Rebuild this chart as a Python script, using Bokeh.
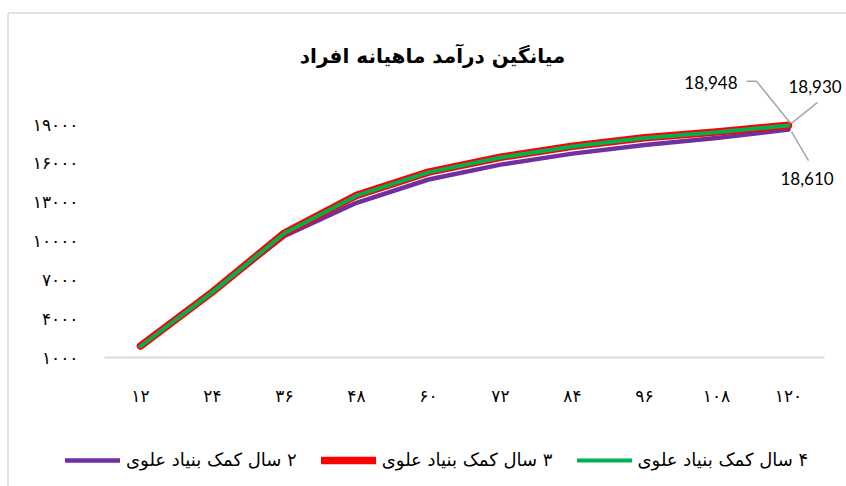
from bokeh.plotting import figure
from bokeh.models import (ColumnDataSource, Range1d, FixedTicker, Legend, LegendItem,
                          Label, Arrow)
from bokeh.embed import file_html
from bokeh.resources import INLINE

# ---- data ----
months = [12, 24, 36, 48, 60, 72, 84, 96, 108, 120]
month_labels = ["۱۲", "۲۴", "۳۶", "۴۸", "۶۰", "۷۲", "۸۴", "۹۶", "۱۰۸", "۱۲۰"]
years2 = [1860, 6020, 10380, 12950, 14750, 15900, 16750, 17420, 17950, 18610]
years3 = [1880, 6070, 10620, 13520, 15320, 16470, 17320, 17970, 18420, 18948]
years4 = [1870, 6050, 10600, 13500, 15300, 16450, 17300, 17950, 18400, 18930]
y_ticks = [1000, 4000, 7000, 10000, 13000, 16000, 19000]
y_tick_labels = ["۱۰۰۰", "۴۰۰۰", "۷۰۰۰", "۱۰۰۰۰", "۱۳۰۰۰", "۱۶۰۰۰", "۱۹۰۰۰"]
series_names = ["۲ سال کمک بنیاد علوی", "۳ سال کمک بنیاد علوی", "۴ سال کمک بنیاد علوی"]
title_text = "میانگین درآمد ماهیانه افراد"

FA = "DejaVu Sans"
RLM = "\u200f"
W, H = 846, 486

# pixel geometry of the plotting area (x: 6..126 -> 104..824 px, y: 1000..19000 -> 357..124 px)
XA, XB = 6, 126
YA, YB = 1000, 19000
PX_L, PX_R = 104, 824
PY_B, PY_T = 357, 124
PXX = (PX_R - PX_L) / (XB - XA)
PXY = (PY_B - PY_T) / (YB - YA)


def dx(px):
    return XA + (px - PX_L) / PXX


def dy(py):
    return YA + (PY_B - py) / PXY


p = figure(width=W, height=H, output_backend="svg", toolbar_location=None,
           x_range=Range1d(dx(0), dx(W)), y_range=Range1d(dy(H), dy(0)),
           min_border=0, min_border_left=0, min_border_right=0,
           min_border_top=0, min_border_bottom=0)
p.outline_line_color = None
p.xgrid.grid_line_color = None
p.ygrid.grid_line_color = None

# chart border (left and top edges of the chart box)
p.segment(x0=[dx(7.5), dx(7.5)], y0=[dy(12.5), dy(12.5)],
          x1=[dx(7.5), dx(W + 5)], y1=[dy(H + 5), dy(12.5)],
          line_color="#d9d9d9", line_width=1.5)

# title
p.add_layout(Label(x=dx(432), y=dy(55), text=title_text, text_align="center",
                   text_baseline="middle", text_font=FA, text_font_size="20px",
                   text_font_style="bold", text_color="#000000"))

src = ColumnDataSource(dict(x=months, y2=years2, y3=years3, y4=years4))
r2 = p.line("x", "y2", source=src, line_color="#7030A0", line_width=4.5,
            line_cap="round", line_join="round")
r3 = p.line("x", "y3", source=src, line_color="#FF0000", line_width=7.5,
            line_cap="round", line_join="round")
r4 = p.line("x", "y4", source=src, line_color="#00B050", line_width=4,
            line_cap="round", line_join="round")

# axes (fixed inside the frame)
p.xaxis.fixed_location = YA
p.xaxis.bounds = (XA, XB)
p.xaxis.ticker = FixedTicker(ticks=months)
p.xaxis.major_label_overrides = {m: l for m, l in zip(months, month_labels)}
p.xaxis.axis_line_color = "#d9d9d9"
p.xaxis.axis_line_width = 2
p.xaxis.major_tick_line_color = None
p.xaxis.minor_tick_line_color = None
p.xaxis.major_label_standoff = 22
p.xaxis.major_label_text_font = FA
p.xaxis.major_label_text_font_size = "17px"
p.xaxis.major_label_text_color = "#000000"

p.yaxis.fixed_location = XA
p.yaxis.ticker = FixedTicker(ticks=y_ticks)
p.yaxis.major_label_overrides = {t: l for t, l in zip(y_ticks, y_tick_labels)}
p.yaxis.axis_line_color = None
p.yaxis.major_tick_line_color = None
p.yaxis.minor_tick_line_color = None
p.yaxis.major_label_standoff = 20
p.yaxis.major_label_text_font = FA
p.yaxis.major_label_text_font_size = "17px"
p.yaxis.major_label_text_color = "#000000"

# legend
legend = Legend(items=[LegendItem(label=RLM + series_names[0], renderers=[r2]),
                       LegendItem(label=RLM + series_names[1], renderers=[r3]),
                       LegendItem(label=RLM + series_names[2], renderers=[r4])],
                orientation="horizontal", location=(65, 16),
                border_line_color=None, background_fill_alpha=0,
                label_text_font=FA, label_text_font_size="18px",
                label_text_color="#000000",
                glyph_width=55, glyph_height=12, label_standoff=6,
                spacing=24, margin=0, padding=0)
p.add_layout(legend)

# data labels for the last point
last = len(months) - 1
lab_font = "Lato"
specs = [
    (years3[last], -51, 43, "right", [(-42, 44), (-32, 44), (2, 2)]),
    (years4[last], 0, 39, "left", [(29, 23), (3, 2)]),
    (years2[last], -8, -49, "left", [(3, -2), (20, -31)]),
]
for val, ox, oy, align, pts in specs:
    p.add_layout(Label(x=months[last], y=val, x_offset=ox, y_offset=oy,
                       text="{:,}".format(val), text_align=align,
                       text_baseline="middle", text_font=lab_font,
                       text_font_size="17px", text_color="#000000"))
    for (ax, ay), (bx, by) in zip(pts[:-1], pts[1:]):
        p.add_layout(Arrow(end=None,
                           x_start=months[last] + ax / PXX, y_start=val + ay / PXY,
                           x_end=months[last] + bx / PXX, y_end=val + by / PXY,
                           line_color="#a6a6a6", line_width=1.5))

open("out.html", "w").write(file_html(p, INLINE))
